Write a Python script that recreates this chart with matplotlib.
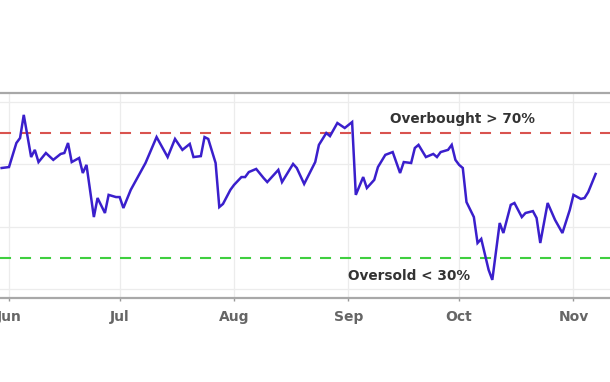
import matplotlib
matplotlib.use("Agg")
import matplotlib.pyplot as plt
import matplotlib.dates as mdates
import pandas as pd

# RSI diário
dates = [
    "2020-05-30", "2020-06-01", "2020-06-03", "2020-06-04", "2020-06-05", "2020-06-07",
    "2020-06-08", "2020-06-09", "2020-06-11", "2020-06-13", "2020-06-15", "2020-06-16",
    "2020-06-17", "2020-06-18", "2020-06-20", "2020-06-21", "2020-06-22", "2020-06-24",
    "2020-06-25", "2020-06-27", "2020-06-28", "2020-06-30", "2020-07-01", "2020-07-02",
    "2020-07-04", "2020-07-08", "2020-07-11", "2020-07-14", "2020-07-16", "2020-07-18",
    "2020-07-20", "2020-07-21", "2020-07-23", "2020-07-24", "2020-07-25", "2020-07-27",
    "2020-07-28", "2020-07-29", "2020-07-31", "2020-08-01", "2020-08-03", "2020-08-04",
    "2020-08-05", "2020-08-07", "2020-08-09", "2020-08-10", "2020-08-13", "2020-08-14",
    "2020-08-17", "2020-08-18", "2020-08-20", "2020-08-23", "2020-08-24", "2020-08-26",
    "2020-08-27", "2020-08-29", "2020-08-31", "2020-09-02", "2020-09-03", "2020-09-05",
    "2020-09-06", "2020-09-08", "2020-09-09", "2020-09-11", "2020-09-13", "2020-09-15",
    "2020-09-16", "2020-09-18", "2020-09-19", "2020-09-20", "2020-09-22", "2020-09-24",
    "2020-09-25", "2020-09-26", "2020-09-28", "2020-09-29", "2020-09-30", "2020-10-01",
    "2020-10-02", "2020-10-03", "2020-10-05", "2020-10-06", "2020-10-07", "2020-10-09",
    "2020-10-10", "2020-10-12", "2020-10-13", "2020-10-15", "2020-10-16", "2020-10-18",
    "2020-10-19", "2020-10-21", "2020-10-22", "2020-10-23", "2020-10-25", "2020-10-27",
    "2020-10-29", "2020-10-31", "2020-11-01", "2020-11-03", "2020-11-04", "2020-11-05",
    "2020-11-07",
]
rsi = [
    58.8, 59.1, 66.8, 68.4, 75.8, 62.3, 64.6, 60.7, 63.6, 61.4, 63.3, 63.6,
    66.8, 60.7, 62.0, 57.2, 59.8, 43.1, 49.2, 44.4, 50.2, 49.5, 49.5, 46.0,
    51.8, 60.4, 68.7, 62.3, 68.1, 64.6, 66.5, 62.3, 62.6, 68.7, 68.1, 60.4,
    46.3, 47.3, 51.8, 53.4, 55.9, 55.9, 57.5, 58.5, 55.6, 54.3, 58.2, 54.3,
    60.1, 58.8, 53.7, 60.7, 66.2, 70.0, 69.0, 73.2, 71.6, 73.5, 50.2, 55.9,
    52.4, 55.0, 59.1, 63.0, 63.9, 57.2, 60.7, 60.4, 65.2, 66.2, 62.3, 63.3,
    62.3, 63.9, 64.6, 66.2, 61.4, 59.8, 58.8, 47.9, 43.1, 34.8, 36.1, 26.2,
    23.0, 41.2, 38.0, 47.0, 47.6, 43.1, 44.4, 45.0, 42.8, 34.8, 47.6, 42.2,
    38.0, 45.4, 50.2, 48.9, 49.2, 51.1, 56.9,
]
overbought = 70
oversold = 30
overbought_label = "Overbought > 70%"
oversold_label = "Oversold < 30%"

x = pd.to_datetime(dates)

fig = plt.figure(figsize=(6.1, 3.82), dpi=100)
ax = fig.add_axes([0, 1 - 298 / 382, 1, 205 / 382])

ax.axhline(overbought, color='#d9534f', linewidth=1.5, dashes=(5.3, 4.3))
ax.axhline(oversold, color='#3fcf3f', linewidth=1.5, dashes=(5.3, 4.3))
ax.plot(x, rsi, color='#3a1fcc', linewidth=1.8, solid_joinstyle='miter')

# limites do eixo
x0 = mdates.date2num(pd.Timestamp("2020-06-01")) - 2.44
x1 = mdates.date2num(pd.Timestamp("2020-06-01")) + 162.9
ax.set_xlim(x0, x1)
ax.set_ylim(17.2, 82.8)

ax.xaxis.set_major_locator(mdates.MonthLocator())
ax.xaxis.set_major_formatter(mdates.DateFormatter('%b'))
ax.set_yticks([20, 40, 60, 80])
ax.tick_params(axis='y', left=False, labelleft=False)
ax.tick_params(axis='x', direction='out', length=2.5, width=1, color='#999999',
               pad=6, labelsize=10, labelcolor='#666666')
for lab in ax.get_xticklabels():
    lab.set_fontweight('bold')

ax.grid(True, color='#ececec', linewidth=0.9)
ax.set_axisbelow(True)

for side in ['left', 'right']:
    ax.spines[side].set_visible(False)
for side in ['top', 'bottom']:
    ax.spines[side].set_color('#a8a8a8')
    ax.spines[side].set_linewidth(1.6)

ax.text(mdates.date2num(pd.Timestamp("2020-06-01")) + 103.3, overbought + 4.6,
        overbought_label, fontsize=9.8, fontweight='bold', color='#333333',
        ha='left', va='center')
ax.text(mdates.date2num(pd.Timestamp("2020-06-01")) + 91.9, oversold - 5.7,
        oversold_label, fontsize=9.8, fontweight='bold', color='#333333',
        ha='left', va='center')

fig.savefig('out.png', dpi=100, facecolor='white')
